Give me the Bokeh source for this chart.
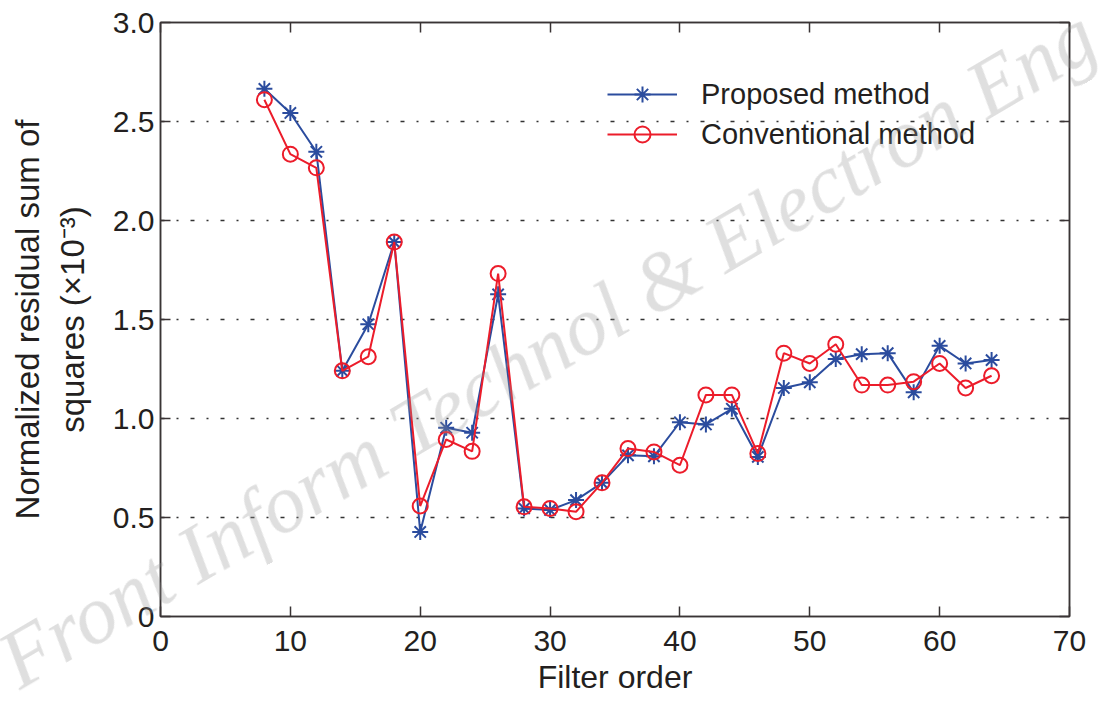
from bokeh.plotting import figure
from bokeh.models import (Range1d, FixedTicker, LinearAxis, Legend, LegendItem,
                          CustomJSTickFormatter, Div)
from bokeh.layouts import column
from bokeh.embed import file_html
from bokeh.resources import INLINE

# ---------------- data ----------------
filter_order = [8, 10, 12, 14, 16, 18, 20, 22, 24, 26, 28, 30, 32, 34, 36,
                38, 40, 42, 44, 46, 48, 50, 52, 54, 56, 58, 60, 62, 64]
proposed = [2.665, 2.543, 2.347, 1.241, 1.476, 1.891, 0.427, 0.953, 0.928,
            1.627, 0.546, 0.538, 0.588, 0.675, 0.814, 0.809, 0.981, 0.970,
            1.049, 0.806, 1.154, 1.183, 1.300, 1.325, 1.330, 1.132, 1.367,
            1.278, 1.295]
conventional = [2.610, 2.335, 2.266, 1.241, 1.312, 1.891, 0.558, 0.894, 0.834,
                1.732, 0.554, 0.546, 0.529, 0.675, 0.848, 0.831, 0.764, 1.119,
                1.119, 0.823, 1.330, 1.278, 1.375, 1.169, 1.169, 1.186, 1.278,
                1.154, 1.216]
x_ticks = [0, 10, 20, 30, 40, 50, 60, 70]
y_ticks = [0, 0.5, 1.0, 1.5, 2.0, 2.5, 3.0]
series_names = ["Proposed method", "Conventional method"]
x_label = "Filter order"
y_label = "Normalized residual sum of\nsquares (×10⁻³)"
watermark = "Front Inform Technol &amp; Electron Eng"

BLUE = "#2B4C9E"
RED = "#EC1C2A"
AXIS = "#3a3435"
TEXT = "#231f20"
FONT = "Liberation Sans"

p = figure(width=1106, height=708, output_backend="svg", toolbar_location=None,
           x_range=Range1d(0, 70), y_range=Range1d(0, 3),
           min_border_left=160, min_border_right=37, min_border_top=22,
           min_border_bottom=92)
p.background_fill_color = "white"
p.border_fill_color = "white"
p.outline_line_color = AXIS
p.outline_line_width = 1.5

# grid
p.xgrid.visible = False
p.ygrid.ticker = FixedTicker(ticks=y_ticks)
p.ygrid.grid_line_color = "#333333"
p.ygrid.grid_line_width = 1.4
p.ygrid.grid_line_dash = "4 12 2 12"

# axes
fmt_y = CustomJSTickFormatter(code="return tick == 0 ? '0' : tick.toFixed(1);")
for ax in p.xaxis:
    ax.ticker = FixedTicker(ticks=x_ticks)
for ax in p.yaxis:
    ax.ticker = FixedTicker(ticks=y_ticks)
    ax.formatter = fmt_y

for ax in list(p.xaxis) + list(p.yaxis):
    ax.axis_line_color = AXIS
    ax.axis_line_width = 1.5
    ax.major_tick_line_color = AXIS
    ax.major_tick_line_width = 1.5
    ax.major_tick_in = 10
    ax.major_tick_out = 0
    ax.minor_tick_line_color = None
    ax.major_label_text_font = FONT
    ax.major_label_text_font_size = "30px"
    ax.major_label_text_color = TEXT
    ax.axis_label_text_font = FONT
    ax.axis_label_text_font_size = "32px"
    ax.axis_label_text_font_style = "normal"
    ax.axis_label_text_color = TEXT

p.xaxis.axis_label = x_label
p.xaxis.major_label_standoff = 14
p.xaxis.axis_label_standoff = 5
p.yaxis.axis_label = y_label
p.yaxis.axis_label_text_font_size = "33px"
p.yaxis.major_label_standoff = 6
p.yaxis.axis_label_standoff = 19
p.yaxis.axis_label_text_line_height = 1.22

blank = CustomJSTickFormatter(code="return '';")
top = LinearAxis(ticker=FixedTicker(ticks=x_ticks), formatter=blank)
right = LinearAxis(ticker=FixedTicker(ticks=y_ticks), formatter=blank)
for ax in (top, right):
    ax.axis_line_color = AXIS
    ax.axis_line_width = 1.5
    ax.major_tick_line_color = AXIS
    ax.major_tick_line_width = 1.5
    ax.major_tick_in = 10
    ax.major_tick_out = 0
    ax.minor_tick_line_color = None
    ax.major_label_standoff = 0
    ax.major_label_text_font_size = "1px"
p.add_layout(top, "above")
p.add_layout(right, "right")

# series
l1 = p.line(filter_order, proposed, line_color=BLUE, line_width=2)
s1 = p.scatter(filter_order, proposed, marker="asterisk", size=16,
               line_color=BLUE, line_width=2)
l2 = p.line(filter_order, conventional, line_color=RED, line_width=2)
s2 = p.scatter(filter_order, conventional, marker="circle", size=15,
               fill_color=None, line_color=RED, line_width=2)

legend = Legend(items=[LegendItem(label=series_names[0], renderers=[l1, s1]),
                       LegendItem(label=series_names[1], renderers=[l2, s2])],
                location=(447, 462))
legend.background_fill_alpha = 0
legend.border_line_alpha = 0
legend.padding = 0
legend.margin = 0
legend.spacing = 0
legend.glyph_width = 70
legend.glyph_height = 40
legend.label_height = 40
legend.label_standoff = 24
legend.label_text_font = FONT
legend.label_text_font_size = "29px"
legend.label_text_color = TEXT
p.add_layout(legend)

# watermark: a rotated italic text laid over the whole chart (not clipped to frame)
wm_html = (
    '<div style="position:fixed; left:20px; top:620.5px; margin:0; padding:0; '
    'transform-origin:0px 69.5px; transform:rotate(-30.5deg); '
    "font-family:'Liberation Serif'; font-style:italic; font-size:83px; "
    'line-height:83px; white-space:nowrap; color:rgba(150,150,150,0.3); '
    'pointer-events:none; z-index:1000;">' + watermark + '</div>'
)
wm = Div(text=wm_html, width=1, height=0)

open("out.html", "w").write(file_html(column(p, wm), INLINE))
